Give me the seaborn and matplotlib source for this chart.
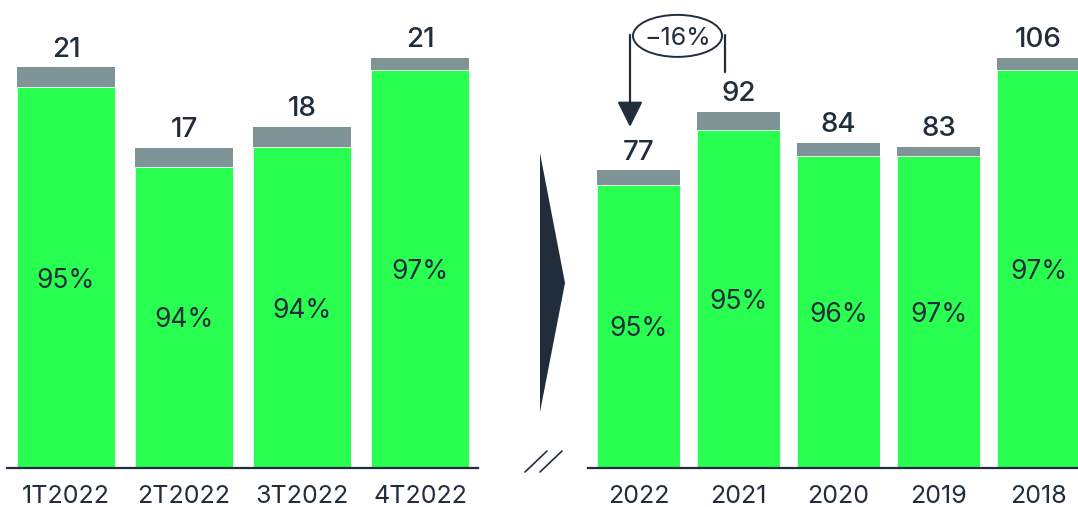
import numpy as np
import pandas as pd
import seaborn as sns
import matplotlib
matplotlib.use("Agg")
import matplotlib.pyplot as plt
from matplotlib.patches import Ellipse, Polygon
from matplotlib.lines import Line2D

# ---- data ----
q_labels = ["1T2022", "2T2022", "3T2022", "4T2022"]
q_totals = [20.9, 16.7, 17.8, 21.4]
q_share = [95, 94, 94, 97]

y_labels = ["2022", "2021", "2020", "2019", "2018"]
y_totals = [77, 92, 84, 83, 106]
y_share = [95, 95, 96, 97, 97]

change_label = "\u221216%"

# ---- style ----
sns.set_theme(style="white")
plt.rcParams["font.family"] = ["Inter", "DejaVu Sans"]

GREEN = "#29ff50"
GRAY = "#7f9496"
DARK = "#222d3c"

W, H = 1078, 507
fig = plt.figure(figsize=(W / 100, H / 100), dpi=100)

def px_axes(x0, x1, ytop, ybot):
    return fig.add_axes([x0 / W, 1 - ybot / H, (x1 - x0) / W, (ybot - ytop) / H])

ax1 = px_axes(7, 478, 0, 468)
ax2 = px_axes(588, 1078, 0, 468)


def draw(ax, labels, totals, share, ylim, xlim):
    df = pd.DataFrame({"cat": labels, "total": totals,
                       "green": [t * s / 100 for t, s in zip(totals, share)]})
    sns.barplot(data=df, x="cat", y="total", color=GRAY, saturation=1,
                width=0.83, ax=ax, linewidth=0)
    sns.barplot(data=df, x="cat", y="green", color=GREEN, saturation=1,
                width=0.83, ax=ax, edgecolor="white", linewidth=0.6)
    ax.set_xlim(*xlim)
    ax.set_ylim(0, ylim)
    for i, (t, g, s) in enumerate(zip(df["total"], df["green"], share)):
        ax.annotate(f"{t:.0f}", (i, t), xytext=(0, 7.5), textcoords="offset points",
                    ha="center", va="baseline", fontsize=20, color=DARK,
                    fontweight="medium")
        ax.text(i, g / 2, f"{s}%", ha="center", va="center_baseline",
                fontsize=19, color=DARK)
    ax.set_xlabel("")
    ax.set_ylabel("")
    ax.set_yticks([])
    for sp in ["top", "left", "right"]:
        ax.spines[sp].set_visible(False)
    ax.spines["bottom"].set_color(DARK)
    ax.spines["bottom"].set_linewidth(1.6)
    ax.tick_params(axis="x", length=0, pad=12, labelsize=18, labelcolor=DARK)
    ax.patch.set_alpha(0)


draw(ax1, q_labels, q_totals, q_share, 24.4, (-0.5, 3.49))
draw(ax2, y_labels, y_totals, y_share, 120.9, (-0.505, 4.395))

# ---- annotation -16% ----
s = 3.87  # px per unit on right axis
def py(p):
    return (468 - p) / s

xl, xr = -0.085, 0.865
ax2.add_line(Line2D([xr, xr], [py(35), py(72)], color=DARK, lw=1.6, clip_on=False))
ax2.annotate("", xy=(xl, py(127)), xytext=(xl, py(35)),
             arrowprops=dict(arrowstyle="-|>,head_length=0.6,head_width=0.3",
                             color=DARK, lw=1.6,
                             mutation_scale=26, shrinkA=0, shrinkB=0),
             annotation_clip=False)
ax2.add_patch(Ellipse(((xl + xr) / 2, py(36)), 0.89, 42 / s, fill=False,
                      edgecolor=DARK, lw=1.4, clip_on=False))
ax2.text((xl + xr) / 2, py(36), change_label, ha="center", va="center_baseline",
         fontsize=18, color=DARK)

# ---- separator triangle and break marks ----
def fpt(x, y):
    return (x / W, 1 - y / H)

fig.add_artist(Polygon([fpt(540, 153), fpt(540, 412), fpt(565, 283)],
                       closed=True, transform=fig.transFigure,
                       facecolor=DARK, edgecolor="none"))
for dx in (0, 15):
    a = fpt(525 + dx, 472)
    b = fpt(547 + dx, 451)
    fig.add_artist(Line2D([a[0], b[0]], [a[1], b[1]], transform=fig.transFigure,
                          color=DARK, lw=1.2))

fig.savefig("out.png", dpi=100)
